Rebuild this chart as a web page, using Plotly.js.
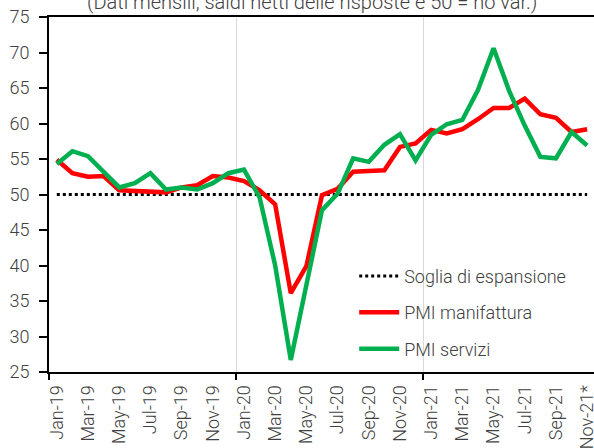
<!DOCTYPE html>
<html>
<head>
<meta charset="utf-8">
<script src="https://cdn.plot.ly/plotly-3.0.1.min.js"></script>
<style>html,body{margin:0;padding:0;background:#fff;}#chart{width:594px;height:448px;}</style>
</head>
<body>
<div id="chart"></div>
<script>
const months = ["Jan-19","Feb-19","Mar-19","Apr-19","May-19","Jun-19","Jul-19","Aug-19","Sep-19","Oct-19","Nov-19","Dec-19",
"Jan-20","Feb-20","Mar-20","Apr-20","May-20","Jun-20","Jul-20","Aug-20","Sep-20","Oct-20","Nov-20","Dec-20",
"Jan-21","Feb-21","Mar-21","Apr-21","May-21","Jun-21","Jul-21","Aug-21","Sep-21","Oct-21","Nov-21*"];
const pmiManifattura = [54.9,53.0,52.5,52.6,50.6,50.5,50.4,50.3,51.0,51.3,52.6,52.4,
51.9,50.6,48.6,36.1,39.9,49.9,50.8,53.2,53.3,53.4,56.7,57.2,
59.1,58.6,59.2,60.6,62.2,62.2,63.5,61.3,60.8,58.8,59.2];
const pmiServizi = [54.3,56.1,55.4,53.1,51.0,51.6,53.0,50.7,51.0,50.7,51.6,53.0,
53.5,49.6,40.0,26.7,37.5,47.8,50.1,55.1,54.6,57.0,58.5,54.8,
58.4,59.9,60.5,64.7,70.6,64.6,59.7,55.3,55.1,58.8,56.9];
const soglia = months.map(() => 50);
const titleText = "(Dati mensili, saldi netti delle risposte e 50 = no var.)";
const legendNames = ["Soglia di espansione","PMI manifattura","PMI servizi"];

const idx = months.map((m, i) => i);
const labelIdx = idx.filter(i => i % 2 === 0);
const labelText = labelIdx.map(i => months[i]);
const yearBounds = idx.filter(i => i % 12 === 0).map(i => i - 0.5);

const fontFam = "Roboto, 'Open Sans', sans-serif";
const txtCol = "#404040";
const mkFont = (s) => ({family: fontFam, size: s, color: txtCol, weight: 300});

const traces = [
  {x: idx, y: soglia, name: legendNames[0], mode: "lines", legendgroup: "a",
   line: {color: "#000000", width: 3, dash: "dot"}},
  {x: idx, y: pmiManifattura, name: legendNames[1], mode: "lines", legendgroup: "b",
   line: {color: "#FF0000", width: 4.5}},
  {x: idx, y: pmiServizi, name: legendNames[2], mode: "lines", legendgroup: "c",
   line: {color: "#00B050", width: 4.5}},
  {x: [idx[0]], y: [null], xaxis: "x2", showlegend: false, hoverinfo: "skip", mode: "lines"}
];

const xr = [-0.5, 34.44];
const layout = {
  width: 594, height: 448,
  margin: {l: 49, r: 0, t: 17, b: 76},
  paper_bgcolor: "#ffffff", plot_bgcolor: "#ffffff",
  font: mkFont(18),
  showlegend: true,
  legend: {x: 0.56, y: 0.322, xanchor: "left", yanchor: "top",
           font: mkFont(18), itemwidth: 40,
           bgcolor: "rgba(0,0,0,0)", tracegroupgap: 10},
  xaxis: {range: xr, tickmode: "array", tickvals: labelIdx, ticktext: labelText,
          tickangle: -90, ticks: "", showgrid: false, zeroline: false,
          showline: true, linecolor: "#000000", linewidth: 2, mirror: true,
          ticklabeloverflow: "allow", ticklabelstandoff: 4,
          tickfont: mkFont(18)},
  xaxis2: {range: xr, overlaying: "x", tickmode: "array", tickvals: yearBounds,
           showticklabels: false, ticks: "outside", ticklen: 7, tickwidth: 2, tickcolor: "#000000",
           showgrid: true, gridcolor: "#d9d9d9", gridwidth: 1, zeroline: false, showline: false},
  yaxis: {range: [25, 75], dtick: 5, tick0: 25, ticks: "outside", ticklen: 8, tickwidth: 2,
          tickcolor: "#000000", showline: true, linecolor: "#000000", linewidth: 2,
          showgrid: false, zeroline: false, ticklabelstandoff: 6,
          tickfont: mkFont(18)},
  annotations: [{text: titleText, xref: "paper", yref: "paper", x: 0.483, y: 1,
                 xanchor: "center", yanchor: "middle", yshift: 15, showarrow: false,
                 font: mkFont(20)}]
};

Plotly.newPlot("chart", traces, layout, {displayModeBar: false, staticPlot: true});
</script>
</body>
</html>
